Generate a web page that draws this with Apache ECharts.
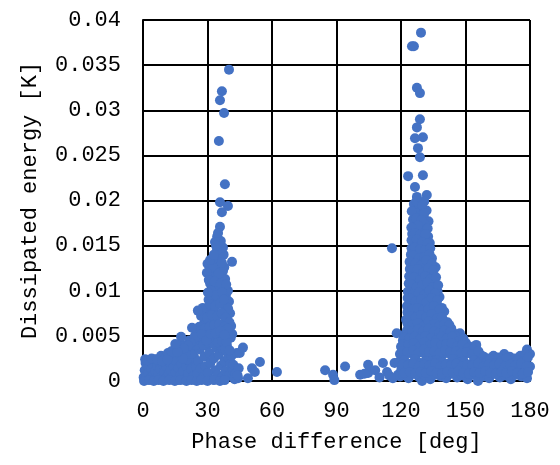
<!DOCTYPE html>
<html>
<head>
<meta charset="utf-8">
<script src="https://cdn.jsdelivr.net/npm/echarts@6/dist/echarts.min.js"></script>
<style>
html,body{margin:0;padding:0;background:#fff;}
#chart{width:560px;height:465px;}
</style>
</head>
<body>
<div id="chart"></div>
<script>
// ---- data (phase difference [deg], dissipated energy [K]) ----
const xTicks = [0, 30, 60, 90, 120, 150, 180];
const yTicks = ['0', '0.005', '0.01', '0.015', '0.02', '0.025', '0.03', '0.035', '0.04'];

const leftBase = [
[0.3,0.0004],[0.8,0.0012],[1.2,0.0020],[1.5,0.0006],[2.1,0.0016],[2.6,0.0009],[3.0,0.0022],[3.4,0.0003],[3.9,0.0013],[4.3,0.0019],
[4.8,0.0007],[5.2,0.0024],[5.7,0.0011],[6.1,0.0002],[6.6,0.0017],[7.0,0.0008],[7.5,0.0021],[8.0,0.0013],[8.4,0.0028],[8.9,0.0005],
[9.3,0.0018],[9.8,0.0010],[10.2,0.0025],[10.7,0.0003],[11.1,0.0015],[11.6,0.0031],[12.0,0.0008],[12.5,0.0020],[12.9,0.0012],[13.4,0.0027],
[13.8,0.0004],[14.3,0.0016],[14.7,0.0035],[15.2,0.0009],[15.6,0.0022],[16.1,0.0001],[16.5,0.0014],[17.0,0.0030],[17.4,0.0007],[17.9,0.0019],
[18.3,0.0040],[18.8,0.0011],[19.2,0.0026],[19.7,0.0002],[20.1,0.0017],[20.6,0.0033],[21.0,0.0008],[21.5,0.0045],[21.9,0.0021],[22.4,0.0013],
[22.8,0.0038],[23.3,0.0005],[23.7,0.0027],[24.2,0.0050],[24.6,0.0016],
[0.5,0.0000],[2.8,0.0001],[5.0,0.0000],[7.3,0.0001],[9.5,0.0000],[12.2,0.0001],[14.8,0.0000],[17.5,0.0001],[20.2,0.0000],[22.6,0.0001],
[1.0,0.0024],[2.0,0.0023],[4.0,0.0025],[6.5,0.0024],[9.0,0.0022],[11.4,0.0024],[13.2,0.0033],[18.0,0.0032],[20.5,0.0024],[22.8,0.0030]
];

const leftLow = [
[25.3,0.0008],[25.8,0.0022],[26.4,0.0035],[26.9,0.0014],[27.5,0.0043],[28.0,0.0004],[28.6,0.0027],[29.1,0.0016],[29.7,0.0039],[30.2,0.0009],
[30.8,0.0031],[31.3,0.0020],[31.9,0.0046],[32.4,0.0002],[33.0,0.0025],[33.5,0.0012],[34.1,0.0037],[34.6,0.0007],[35.2,0.0029],[35.7,0.0048],
[36.3,0.0017],[36.8,0.0004],[37.4,0.0034],[37.9,0.0022],[38.5,0.0011],[39.0,0.0040],[39.6,0.0026],[40.1,0.0006],[40.7,0.0019],[41.2,0.0028],
[41.8,0.0012],[42.0,0.0018],[43.0,0.0008],[43.7,0.0031],[44.5,0.0014],[44.2,0.0003],[45.0,0.0031],[46.5,0.0037],[48.8,0.0003],[50.7,0.0014],
[52.0,0.0010],[54.4,0.0021],[62.3,0.0010],
[25.0,0.0000],[27.2,0.0001],[30.0,0.0000],[33.0,0.0001],[35.8,0.0000],[38.0,0.0001],[42.6,0.0002],[44.0,0.0006],[24.6,0.0040],[26.0,0.0046],
[28.0,0.0040],[30.4,0.0042],[32.8,0.0041],[34.8,0.0043],[36.9,0.0044],[38.2,0.0035]
];

const leftPeak = [
[29.5,0.0050],[30.2,0.0062],[30.8,0.0071],[31.5,0.0058],[32.0,0.0080],[32.6,0.0066],[33.1,0.0091],[33.7,0.0075],[34.2,0.0102],[34.8,0.0085],
[35.3,0.0112],[35.9,0.0095],[36.4,0.0120],[37.0,0.0088],[37.5,0.0105],[38.0,0.0078],[38.6,0.0096],[39.1,0.0068],[30.5,0.0090],[31.2,0.0108],
[31.8,0.0122],[32.4,0.0115],[33.0,0.0128],[33.6,0.0118],[34.1,0.0133],[35.0,0.0126],[36.0,0.0130],[37.2,0.0122],[38.2,0.0113],[39.5,0.0100],
[40.0,0.0088],[29.0,0.0075],[28.4,0.0064],[27.8,0.0081],[27.0,0.0072],[26.2,0.0060],[25.5,0.0078],[25.0,0.0055],[24.0,0.0048],[22.8,0.0059],
[22.2,0.0042],[21.0,0.0039],[20.0,0.0030],[19.0,0.0036],[18.5,0.0025],[17.7,0.0049],[16.0,0.0032],[15.0,0.0041],[40.5,0.0075],[41.0,0.0061],
[39.8,0.0055],[40.8,0.0048],[38.8,0.0043],[40.3,0.0034],[41.5,0.0052],
[30.0,0.0130],[32.5,0.0126],[35.2,0.0119],[37.8,0.0126],[29.7,0.0120],[30.6,0.0112],[33.3,0.0110],[36.2,0.0108],[38.7,0.0107],[31.6,0.0100],
[34.0,0.0095],[36.8,0.0098],[38.9,0.0090],[30.2,0.0098],[31.0,0.0085],[33.6,0.0083],[35.8,0.0086],[37.6,0.0090],[39.6,0.0080],[29.8,0.0070],
[32.0,0.0073],[34.5,0.0072],[36.6,0.0075],[38.4,0.0070],[40.2,0.0065],[28.8,0.0058],[31.0,0.0060],[33.2,0.0062],[35.5,0.0063],[37.8,0.0060],
[39.5,0.0058],[27.3,0.0052],[29.5,0.0045],[31.5,0.0052],[33.8,0.0053],[36.0,0.0055],[37.9,0.0051],
[34.5,0.0160],[36.2,0.0155],[35.0,0.0138],[37.5,0.0140],[32.5,0.0135],
[40.0,0.0345],[36.7,0.0321],[35.8,0.0311],[37.7,0.0297],[35.3,0.0266],[38.1,0.0218],[35.8,0.0198],[39.5,0.0194],[36.7,0.0187],[35.8,0.0171],
[34.9,0.0164],[33.5,0.0154],[37.2,0.0148],[34.4,0.0145],[31.2,0.0134],[41.4,0.0132],[36.7,0.0131],[33.0,0.0140],[34.0,0.0150]
];

const middle = [
[84.7,0.0012],[88.4,0.0007],[89.0,0.0001],[94.0,0.0016],[101.0,0.0007],[104.7,0.0009],[104.7,0.0018],[111.6,0.0020],[113.5,0.0010],[117.0,0.0020],
[121.0,0.0012],[118.6,0.0007],[118.0,0.0053],[115.8,0.0147],[103.0,0.0008],[108.0,0.0012],[110.0,0.0004],[114.5,0.0006],[116.2,0.0003]
];

const rightCore = [
[129.3,0.0386],[126.0,0.0371],[125.1,0.0371],[127.4,0.0325],[128.8,0.0319],[128.8,0.0290],[127.4,0.0281],[130.2,0.0270],[126.5,0.0269],[127.9,0.0258],
[128.8,0.0248],[123.3,0.0227],[130.2,0.0228],[126.5,0.0215],[132.0,0.0206],[127.4,0.0204],
[126.0,0.0196],[128.6,0.0192],[130.8,0.0199],[127.1,0.0186],[129.4,0.0183],[131.9,0.0189],
[125.6,0.0179],[128.2,0.0176],[130.6,0.0181],[132.8,0.0177],[126.4,0.0171],[129.1,0.0168],[131.4,0.0173],
[125.2,0.0163],[127.6,0.0161],[130.1,0.0165],[132.6,0.0160],[126.1,0.0155],[128.4,0.0152],[131.2,0.0157],[133.4,0.0153],
[124.9,0.0147],[127.7,0.0145],[130.0,0.0149],[132.4,0.0144],[124.6,0.0140],[127.0,0.0137],[129.6,0.0141],[132.1,0.0138],[134.4,0.0136],
[125.4,0.0131],[128.1,0.0129],[130.5,0.0133],[133.1,0.0128],
[124.1,0.0124],[126.6,0.0121],[129.0,0.0125],[131.6,0.0122],[134.0,0.0119],[136.1,0.0126],
[125.0,0.0116],[127.4,0.0113],[130.1,0.0117],[132.5,0.0114],[135.1,0.0111],
[123.6,0.0108],[126.1,0.0106],[128.5,0.0109],[131.0,0.0104],[133.6,0.0107],[136.3,0.0102],
[124.4,0.0100],[127.1,0.0097],[129.5,0.0101],[132.0,0.0098],[134.6,0.0095],[137.0,0.0099],
[123.1,0.0092],[125.6,0.0090],[128.0,0.0093],[130.4,0.0089],[133.1,0.0091],[135.5,0.0088],[137.9,0.0093],
[122.8,0.0083],[124.1,0.0085],[126.6,0.0082],[129.0,0.0086],[131.6,0.0083],[134.0,0.0080],[136.6,0.0084],[139.0,0.0081],
[123.0,0.0076],[125.5,0.0073],[128.0,0.0077],[130.6,0.0074],[133.0,0.0078],[135.4,0.0072],[138.1,0.0075],[140.1,0.0077],
[122.4,0.0068],[124.6,0.0066],[127.1,0.0069],[129.5,0.0065],[132.0,0.0070],[134.5,0.0067],[137.1,0.0064],[139.5,0.0068],[141.6,0.0065],
[123.5,0.0060],[126.0,0.0058],[128.5,0.0061],[131.1,0.0057],[133.5,0.0062],[136.0,0.0059],[138.6,0.0056],[141.0,0.0060],[143.4,0.0058],
[121.9,0.0052],[124.5,0.0050],[127.0,0.0053],[129.6,0.0049],[132.0,0.0054],[134.5,0.0051],[137.1,0.0048],[139.5,0.0052],[142.0,0.0050],[144.6,0.0053],[147.4,0.0053],[146.0,0.0047],
[120.9,0.0045],[123.1,0.0043],[125.5,0.0046],[128.0,0.0042],[130.5,0.0047],[133.0,0.0044],[135.5,0.0041],[138.0,0.0045],[140.5,0.0043],[143.0,0.0046],[145.5,0.0040],[148.0,0.0044],[150.2,0.0042],
[120.0,0.0038],[122.0,0.0036],[124.5,0.0039],[127.0,0.0035],[129.5,0.0040],[132.0,0.0037],[134.5,0.0034],[137.0,0.0038],[139.5,0.0036],[142.0,0.0039],[144.5,0.0035],[147.0,0.0037],[149.5,0.0034],[152.0,0.0038],[155.0,0.0040],
[119.5,0.0030],[121.5,0.0028],[124.0,0.0031],[126.5,0.0027],[129.0,0.0032],[131.5,0.0029],[134.0,0.0026],[136.5,0.0030],[139.0,0.0028],[141.5,0.0031],[144.0,0.0027],[146.5,0.0030],[149.0,0.0028],[151.5,0.0031],[154.0,0.0027],[157.0,0.0029],[168.0,0.0030],[178.6,0.0035],[180.0,0.0030]
];

const rightFill = [
[127.3,0.0199],[129.8,0.0195],[125.0,0.0188],[130.8,0.0186],[127.0,0.0180],[129.5,0.0178],[127.9,0.0172],[124.8,0.0170],[132.4,0.0169],[126.4,0.0164],
[128.9,0.0162],[131.3,0.0163],[124.9,0.0156],[127.3,0.0157],[129.8,0.0154],[132.2,0.0152],[126.3,0.0148],[128.9,0.0146],[131.2,0.0145],[133.6,0.0147],
[125.8,0.0139],[128.3,0.0136],[130.9,0.0137],[133.3,0.0140],[124.0,0.0132],[126.8,0.0130],[129.3,0.0128],[131.8,0.0134],[134.4,0.0130],[125.3,0.0123],
[127.8,0.0124],[130.3,0.0120],[132.8,0.0125],[135.2,0.0123],[123.8,0.0116],[126.2,0.0115],[128.8,0.0112],[131.3,0.0116],[133.8,0.0113],[136.3,0.0115],
[124.8,0.0107],[127.3,0.0104],[129.8,0.0106],[132.3,0.0109],[134.8,0.0104],[137.3,0.0106],[123.2,0.0099],[125.8,0.0096],[128.3,0.0098],[130.8,0.0095],
[133.3,0.0100],[135.8,0.0097],[124.3,0.0091],[126.8,0.0088],[129.3,0.0090],[131.8,0.0087],[134.3,0.0092],[136.8,0.0089],[125.3,0.0079],[127.8,0.0081],
[130.3,0.0078],[132.8,0.0080],[135.3,0.0083],[137.8,0.0079],[124.3,0.0072],[126.8,0.0070],[129.3,0.0073],[131.8,0.0071],[134.3,0.0074],[136.8,0.0069],
[139.0,0.0071],[123.0,0.0064],[125.3,0.0062],[127.8,0.0064],[130.3,0.0060],[132.8,0.0066],[135.3,0.0063],[137.8,0.0061],[140.3,0.0063],[142.5,0.0062],
[122.8,0.0056],[125.3,0.0055],[127.8,0.0057],[130.3,0.0055],[132.8,0.0058],[135.3,0.0055],[137.8,0.0053],[140.3,0.0056],[142.8,0.0054],[145.3,0.0050],
[121.5,0.0048],[124.0,0.0047],[126.3,0.0049],[128.8,0.0046],[131.3,0.0050],[133.8,0.0047],[136.3,0.0045],[138.8,0.0049],[141.3,0.0047],[143.8,0.0049],
[146.8,0.0044],[149.0,0.0047],[121.0,0.0041],[123.5,0.0040],[126.0,0.0042],[128.6,0.0038],[131.0,0.0043],[133.6,0.0040],[136.0,0.0042],[138.6,0.0039],
[141.0,0.0041],[143.6,0.0042],[146.0,0.0038],[148.6,0.0040],[151.0,0.0036],[153.5,0.0035],[120.6,0.0033],[123.0,0.0032],[125.6,0.0034],[128.0,0.0031],
[130.6,0.0035],[133.0,0.0032],[135.6,0.0033],[138.0,0.0031],[140.6,0.0034],[143.0,0.0032],[145.6,0.0033],[148.0,0.0031],[150.6,0.0032],[153.0,0.0030],
[156.0,0.0033],[158.5,0.0027],[161.0,0.0025],[163.0,0.0028],[165.5,0.0026],[170.5,0.0027],[173.0,0.0025],[175.5,0.0028],[177.8,0.0030]
];

const rightBase = [
[119.0,0.0021],[121.5,0.0023],[124.0,0.0019],[126.6,0.0024],[129.1,0.0020],[131.5,0.0022],[134.1,0.0018],[136.6,0.0023],[139.0,0.0021],[141.6,0.0019],
[144.0,0.0024],[146.5,0.0020],[149.1,0.0022],[151.5,0.0018],[154.0,0.0023],[156.6,0.0021],[159.0,0.0019],[161.5,0.0024],[164.0,0.0020],[166.6,0.0022],
[169.0,0.0025],[171.5,0.0019],[174.1,0.0023],[176.5,0.0021],[179.0,0.0026],
[120.2,0.0013],[122.8,0.0015],[125.3,0.0011],[127.8,0.0016],[130.3,0.0012],[132.9,0.0014],[135.3,0.0010],[137.8,0.0015],[140.4,0.0013],[142.8,0.0011],
[145.3,0.0016],[147.9,0.0012],[150.3,0.0014],[152.8,0.0010],[155.4,0.0015],[157.8,0.0013],[160.3,0.0011],[162.9,0.0016],[165.3,0.0012],[167.8,0.0014],
[170.4,0.0010],[172.8,0.0015],[175.3,0.0013],[177.9,0.0011],[180.0,0.0016],
[119.6,0.0005],[121.0,0.0007],[123.5,0.0003],[126.0,0.0008],[128.5,0.0004],[129.8,0.0000],[131.0,0.0006],[133.6,0.0002],[136.0,0.0007],[138.6,0.0005],
[141.0,0.0003],[143.5,0.0008],[146.1,0.0004],[148.5,0.0006],[151.0,0.0002],[153.6,0.0007],[155.8,0.0000],[158.5,0.0005],[161.0,0.0003],[163.6,0.0008],
[166.0,0.0004],[168.5,0.0006],[171.1,0.0002],[173.5,0.0007],[176.0,0.0005],[178.6,0.0003],
[120.8,0.0018],[123.3,0.0017],[125.8,0.0019],[128.3,0.0016],[130.8,0.0018],[133.3,0.0017],[135.8,0.0019],[138.3,0.0016],[140.8,0.0018],[143.3,0.0017],
[145.8,0.0019],[148.3,0.0016],[150.8,0.0018],[153.3,0.0017],[155.8,0.0019],[158.3,0.0016],[160.8,0.0018],[163.3,0.0017],[165.8,0.0019],[168.3,0.0016],
[170.8,0.0018],[173.3,0.0017],[175.8,0.0019],[178.3,0.0016],
[121.5,0.0009],[124.1,0.0010],[126.6,0.0008],[129.1,0.0010],[131.6,0.0009],[134.1,0.0011],[136.6,0.0009],[139.1,0.0008],[141.6,0.0010],[144.1,0.0009],
[146.6,0.0011],[149.1,0.0009],[151.6,0.0008],[154.1,0.0010],[156.6,0.0009],[159.1,0.0011],[161.6,0.0009],[164.1,0.0008],[166.6,0.0010],[169.1,0.0009],
[171.6,0.0011],[174.1,0.0009],[176.6,0.0008],[179.1,0.0010]
];

const allPoints = [].concat(leftBase, leftLow, leftPeak, middle, rightCore, rightFill, rightBase);

const FONT = '"Liberation Mono", "DejaVu Sans Mono", monospace';
const chart = echarts.init(document.getElementById('chart'), null, {renderer: 'canvas'});
chart.setOption({
  animation: false,
  backgroundColor: '#ffffff',
  grid: {left: 143, right: 30, top: 20, bottom: 84, containLabel: false},
  xAxis: {
    type: 'value', min: 0, max: 180, interval: 30,
    name: 'Phase difference [deg]', nameLocation: 'middle', nameGap: 50,
    nameTextStyle: {fontFamily: FONT, fontSize: 22, color: '#000'},
    axisLine: {show: true, lineStyle: {color: '#000', width: 2}},
    axisTick: {show: false},
    axisLabel: {fontFamily: FONT, fontSize: 22, color: '#000', margin: 19,
      formatter: v => String(xTicks[xTicks.indexOf(v)])},
    splitLine: {show: true, lineStyle: {color: '#000', width: 2}}
  },
  yAxis: {
    type: 'value', min: 0, max: 0.04, interval: 0.005,
    name: 'Dissipated energy [K]', nameLocation: 'middle', nameGap: 102, nameRotate: 90,
    nameTextStyle: {fontFamily: FONT, fontSize: 22, color: '#000'},
    axisLine: {show: true, lineStyle: {color: '#000', width: 2}},
    axisTick: {show: false},
    axisLabel: {fontFamily: FONT, fontSize: 22, color: '#000', margin: 22,
      formatter: v => yTicks[Math.round(v / 0.005)]},
    splitLine: {show: true, lineStyle: {color: '#000', width: 2}}
  },
  series: [{
    type: 'scatter',
    data: allPoints,
    symbol: 'circle',
    symbolSize: 10,
    itemStyle: {color: '#4472C4', opacity: 1},
    clip: false
  }]
});
</script>
</body>
</html>
